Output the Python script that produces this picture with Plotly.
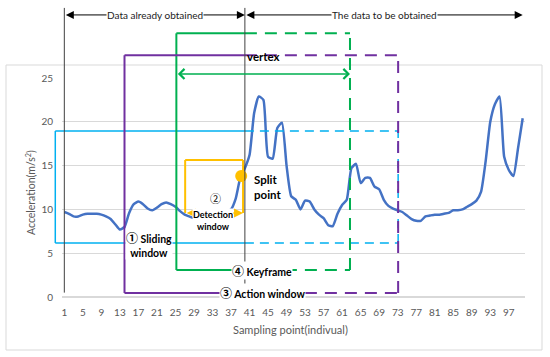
import plotly.graph_objects as go

# ---------------- data ----------------
sample_idx = list(range(1, 101))
acceleration = [
    9.7, 9.5, 9.2, 9.2, 9.4, 9.5, 9.5, 9.5, 9.4, 9.2,
    8.9, 8.3, 7.7, 8.0, 9.6, 10.6, 10.9, 10.6, 10.1, 9.9,
    10.2, 10.6, 10.8, 10.6, 10.3, 9.8, 9.4, 9.2, 9.0, 9.0,
    9.1, 9.3, 9.4, 9.5, 9.6, 9.8, 10.0, 11.2, 13.6, 14.7,
    16.2, 21.0, 22.9, 22.5, 16.0, 15.8, 19.3, 19.9, 15.0, 11.5,
    11.1, 10.0, 11.0, 10.9, 10.0, 9.4, 9.0, 8.2, 8.1, 9.5,
    10.5, 11.1, 14.7, 15.2, 13.0, 13.6, 13.6, 12.6, 12.3, 11.1,
    10.4, 10.1, 9.9, 9.7, 9.3, 8.9, 8.7, 8.7, 9.2, 9.3,
    9.4, 9.4, 9.5, 9.6, 9.9, 9.9, 10.0, 10.3, 10.6, 11.0,
    12.0, 15.5, 20.0, 22.0, 22.9, 16.0, 14.5, 13.8, 17.0, 20.4,
]
x_tickvals = list(range(1, 101, 4))
y_tickvals = [0, 5, 10, 15, 20, 25]

split_x = [39.2]
split_y = [13.8]
vertex_x = [44.0]
vertex_y = [25.57]

# windows (sample index / acceleration units); boundary between obtained / to-be-obtained
boundary = 40
sliding_win = [-0.95, 73.1, 6.16, 18.95]
detect_win = [27.1, 39.6, 9.59, 15.64]
action_win = [14.0, 73.1, 0.46, 27.6]
key_win = [25.2, 62.7, 3.08, 30.1]

# ---------------- layout geometry ----------------
W, H = 550, 357
ML, MR, MT, MB = 62, 25, 78, 60
X0, X1 = 0.5, 100.5
Y0, Y1 = 0, 25
PW = W - ML - MR
PH = H - MT - MB
PPX = PW / (X1 - X0)


def xp(i):
    return (i - X0) / (X1 - X0)


def yp(v):
    return (v - Y0) / (Y1 - Y0)


def pxp(px):
    return (px - ML) / PW


def pyp(py):
    return (H - MB - py) / PH


PURPLE = "#7030A0"
GREEN = "#00B050"
CYAN = "#00B0F0"
ORANGE = "#FFC000"
BLUE = "#4472C4"
GRAY = "#595959"
FONT = "Lato"
CIRC = "<span style=\"font-family:'Noto Sans CJK SC';font-size:%dpx\">%s</span>"

shapes = []


def seg(x0, y0, x1, y1, color, width, dash="solid"):
    shapes.append(dict(type="line", xref="paper", yref="paper",
                       x0=xp(x0), y0=yp(y0), x1=xp(x1), y1=yp(y1),
                       line=dict(color=color, width=width, dash=dash)))


def window(win, color, width, dash, bottom=True):
    l, r, b, t = win
    seg(l, b, l, t, color, width)
    seg(l, t, boundary, t, color, width)
    seg(boundary, t, r, t, color, width, dash)
    seg(r, b, r, t, color, width, dash)
    if bottom:
        seg(l, b, boundary, b, color, width)
        seg(boundary, b, r, b, color, width, dash)


# outer chart border
shapes.append(dict(type="rect", xref="paper", yref="paper",
                   x0=pxp(6), x1=pxp(542), y0=pyp(350), y1=pyp(65),
                   line=dict(color="#D9D9D9", width=1), layer="below"))

window(sliding_win, CYAN, 1.5, "9px,6px")
window(key_win, GREEN, 2, "12px,8px")
window(action_win, PURPLE, 2, "12px,8px")
# detection window (bottom edge is drawn as a double arrow below)
l, r, b, t = detect_win
seg(l, b, l, t, ORANGE, 2)
seg(l, t, r, t, ORANGE, 2)
seg(r, b, r, t, ORANGE, 2)

# black boundary lines
seg(1, 0.5, 1, 33.0, "#404040", 1)
seg(boundary, 0.23, boundary, 33.0, "#404040", 1)

fig = go.Figure()
fig.add_trace(go.Scatter(x=sample_idx, y=acceleration, mode="lines",
                         line=dict(color=BLUE, width=2.5, shape="spline", smoothing=0.5),
                         showlegend=False, hoverinfo="skip"))
fig.add_trace(go.Scatter(x=split_x, y=split_y, mode="markers",
                         marker=dict(color=ORANGE, size=12), showlegend=False,
                         cliponaxis=False, hoverinfo="skip"))
fig.add_trace(go.Scatter(x=vertex_x, y=vertex_y, mode="markers",
                         marker=dict(color=GREEN, size=13), showlegend=False,
                         cliponaxis=False, hoverinfo="skip"))

ann = []


def label(x, y, text, size, color="black", bg=None, xanchor="center", align="center",
          angle=0):
    d = dict(x=x, y=y, xref="paper", yref="paper", text=text, showarrow=False,
             xanchor=xanchor, yanchor="middle", align=align, textangle=angle,
             font=dict(family=FONT, size=size, color=color))
    if bg:
        d.update(bgcolor=bg, borderpad=0)
    ann.append(d)


def darrow(x0, x1, y, color, width, head, size):
    ann.append(dict(x=xp(x1), y=yp(y), xref="paper", yref="paper", text="",
                    showarrow=True, ax=-(x1 - x0) * PPX, ay=0,
                    arrowside="end+start", arrowhead=head, startarrowhead=head,
                    arrowsize=size, startarrowsize=size, arrowwidth=width,
                    arrowcolor=color))


top_y = 32.2
# top arrows
darrow(1, boundary, top_y, "black", 1, 2, 1.6)
darrow(boundary, 100.0, top_y, "black", 1, 2, 1.6)
# detection window bottom
darrow(detect_win[0], detect_win[1], detect_win[2], ORANGE, 2, 2, 0.9)
# vertex arrow
darrow(key_win[0], key_win[1], 25.46, GREEN, 1.5, 4, 1.3)

label(xp(20.5), yp(top_y), "Data already obtained", 10, "#222", bg="white")
label(xp(70.2), yp(top_y), "The data to be obtained", 10, "#222", bg="white")
label(xp(40), yp(27.4), "<b>vertex</b>", 11.5, xanchor="left")
label(xp(41.6), yp(12.56), "<b>Split<br>point</b>", 11.5, xanchor="left", align="left")
label(xp(33.6), yp(11.25), CIRC % (11, "②"), 11)
label(xp(33.2), yp(8.75), "<b>Detection<br>window</b>", 9, bg="white")
label(xp(19.35), yp(6.1), "<b>" + CIRC % (12, "①") + " Sliding<br>window</b>", 10.5,
      bg="white")
label(xp(43.8), yp(key_win[2]), "<b>" + CIRC % (12, "④") + " Keyframe</b>", 10.5,
      bg="white")
label(xp(43.8), yp(action_win[2]), "<b>" + CIRC % (12, "③") + " Action window</b>", 10.5,
      bg="white")
# axis titles
label(pxp(30), pyp(193), "Acceleration(m/s<sup>2</sup>)", 10.5, GRAY, angle=-90)
label(pxp(290), pyp(329), "Sampling point(indivual)", 11, GRAY)

fig.update_layout(
    width=W, height=H,
    margin=dict(l=ML, r=MR, t=MT, b=MB, pad=0),
    paper_bgcolor="white", plot_bgcolor="white",
    shapes=shapes, annotations=ann,
    font=dict(family=FONT, color=GRAY),
    hovermode=False,
    xaxis=dict(range=[X0, X1], tickvals=x_tickvals, showgrid=False, zeroline=False,
               showline=False, ticks="", tickfont=dict(size=10, color=GRAY),
               ticklabelstandoff=8),
    yaxis=dict(range=[Y0, Y1], tickvals=y_tickvals, showgrid=True, gridcolor="#D9D9D9",
               gridwidth=1, zeroline=True, zerolinecolor="#D9D9D9", showline=False,
               ticks="", tickfont=dict(size=10, color=GRAY), ticklabelstandoff=8),
)

fig.write_html("out.html", config={"responsive": False, "displayModeBar": False},
               post_script="document.body.style.margin='0';document.body.style.overflow='hidden';")
